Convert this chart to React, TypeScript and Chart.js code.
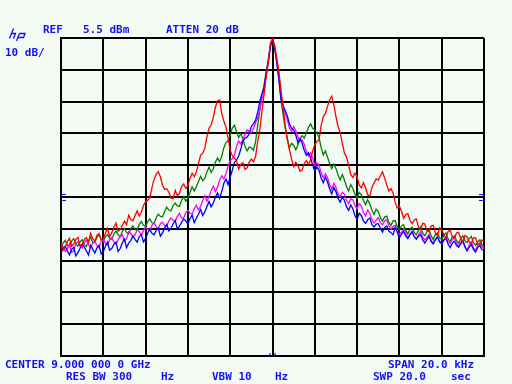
import React, { useEffect, useRef } from "react";
import { Chart, registerables } from "chart.js";

Chart.register(...registerables);

// Frequency offset from center (kHz), 201 sweep points across the 20 kHz span
const FREQ_KHZ: number[] = Array.from({ length: 201 }, (_, i) => Math.round((-10 + i * 0.1) * 10) / 10);

const X_TICKS: number[] = [-10, -8, -6, -4, -2, 0, 2, 4, 6, 8, 10];
const Y_TICKS: number[] = [5.5, -4.5, -14.5, -24.5, -34.5, -44.5, -54.5, -64.5, -74.5, -84.5, -94.5];

// Trace levels in dBm
const RED: number[] = [
  -58.8, -61.2, -60.5, -58.6, -57.5, -60.0, -59.3, -57.8, -57.2, -59.8,
  -59.4, -57.9, -57.3, -58.9, -55.9, -57.6, -58.4, -56.5, -56.0, -58.0,
  -57.8, -55.9, -54.4, -56.9, -55.7, -54.0, -52.7, -55.3, -54.7, -53.4,
  -52.1, -53.2, -50.2, -51.6, -52.0, -50.4, -48.9, -50.5, -49.3, -47.2,
  -46.0, -45.5, -44.7, -41.6, -38.9, -37.4, -36.5, -38.2, -40.8, -42.1,
  -41.9, -43.0, -44.8, -45.0, -42.4, -44.1, -43.4, -41.3, -40.4, -41.8,
  -40.9, -38.6, -37.1, -38.1, -36.6, -34.0, -31.3, -30.8, -29.2, -25.5,
  -22.9, -21.8, -19.5, -16.2, -14.3, -14.0, -18.2, -20.6, -22.5, -26.0,
  -29.8, -31.5, -32.2, -33.2, -35.7, -34.3, -33.7, -35.8, -35.3, -33.5,
  -32.6, -33.4, -31.8, -27.0, -23.4, -17.5, -12.4, -6.8, -2.0, 3.8,
  5.5, 3.2, -0.8, -4.8, -10.9, -16.0, -21.9, -26.5, -29.6, -32.5,
  -34.9, -33.6, -34.5, -36.4, -36.0, -34.0, -33.1, -34.3, -32.8, -30.0,
  -28.1, -27.0, -26.6, -22.0, -19.2, -18.2, -16.0, -14.0, -12.8, -15.5,
  -19.2, -22.4, -24.2, -27.6, -30.7, -32.0, -34.5, -37.5, -38.4, -37.0,
  -38.1, -40.8, -41.6, -40.0, -41.6, -43.8, -44.2, -41.5, -40.1, -38.8,
  -39.2, -37.8, -36.6, -38.5, -40.7, -42.6, -41.9, -43.2, -46.2, -48.0,
  -47.4, -49.0, -51.2, -50.0, -49.7, -51.8, -52.9, -51.7, -51.4, -53.9,
  -54.7, -52.8, -53.0, -55.0, -55.5, -53.6, -53.4, -55.8, -56.7, -54.2,
  -54.6, -56.4, -57.3, -55.4, -54.9, -57.0, -57.5, -55.8, -55.6, -57.6,
  -58.7, -56.6, -57.0, -58.6, -59.2, -57.4, -57.3, -59.4, -59.7, -58.0,
  -58.4,
];

const BLUE: number[] = [
  -62.1, -60.8, -59.9, -61.5, -62.7, -61.0, -60.3, -63.0, -62.0, -60.6,
  -59.5, -60.2, -61.5, -62.8, -59.7, -60.9, -62.1, -60.5, -59.7, -62.4,
  -61.7, -60.0, -58.7, -61.2, -60.7, -59.4, -58.7, -61.6, -60.7, -58.9,
  -57.7, -60.4, -59.0, -58.2, -56.7, -57.8, -58.7, -57.0, -56.3, -58.6,
  -57.5, -55.8, -54.6, -55.9, -56.4, -55.0, -54.3, -56.8, -55.8, -54.3,
  -53.1, -55.2, -54.4, -53.0, -51.9, -54.6, -53.7, -52.5, -51.4, -52.0,
  -53.0, -51.3, -50.2, -52.6, -51.2, -49.9, -48.4, -50.3, -49.2, -47.5,
  -45.9, -47.6, -46.4, -44.6, -43.2, -44.9, -42.8, -40.2, -38.9, -40.6,
  -38.2, -36.1, -33.6, -33.0, -31.6, -29.5, -26.9, -26.0, -25.7, -24.6,
  -22.3, -21.5, -20.3, -17.8, -14.5, -12.0, -10.2, -6.0, -2.0, 3.0,
  4.9, 2.5, -2.0, -7.2, -13.4, -15.8, -17.3, -19.0, -21.5, -22.9,
  -23.4, -25.0, -27.4, -26.1, -27.6, -29.8, -31.4, -30.6, -32.2, -34.5,
  -36.3, -35.0, -36.2, -38.5, -40.0, -38.2, -39.8, -41.9, -43.5, -41.5,
  -42.8, -45.0, -46.1, -44.6, -45.5, -47.6, -48.7, -47.0, -48.2, -50.4,
  -51.5, -49.6, -50.3, -52.0, -52.8, -51.6, -51.1, -53.2, -53.9, -53.0,
  -52.9, -54.3, -55.5, -54.1, -53.6, -55.2, -55.7, -56.4, -54.0, -55.6,
  -57.3, -56.2, -55.2, -56.8, -57.6, -56.4, -55.4, -57.0, -57.8, -56.9,
  -56.3, -57.9, -59.0, -57.9, -56.9, -58.5, -59.2, -58.0, -57.1, -58.6,
  -59.2, -58.1, -57.4, -59.3, -60.4, -59.0, -58.4, -59.8, -60.3, -59.2,
  -58.4, -60.1, -61.4, -60.3, -59.4, -61.0, -61.8, -60.4, -59.7, -61.0,
  -61.3,
];

const MAGENTA: number[] = [
  -59.5, -60.2, -61.6, -60.8, -59.3, -61.9, -61.5, -59.2, -58.6, -59.9,
  -60.5, -58.9, -58.0, -59.6, -60.4, -59.0, -58.5, -59.8, -60.5, -58.3,
  -57.8, -59.2, -59.6, -58.0, -57.3, -58.6, -59.3, -57.9, -57.0, -56.4,
  -58.4, -57.6, -55.4, -55.9, -57.1, -56.3, -54.9, -55.3, -56.6, -55.0,
  -53.8, -54.6, -55.1, -53.4, -52.6, -53.8, -54.5, -52.9, -52.4, -53.5,
  -53.7, -52.0, -51.1, -51.8, -52.2, -50.6, -49.6, -51.0, -51.1, -49.3,
  -48.7, -49.6, -49.9, -48.2, -47.1, -48.6, -47.4, -45.5, -44.1, -45.8,
  -44.4, -42.5, -41.1, -42.8, -41.4, -39.2, -37.8, -38.8, -37.2, -34.8,
  -33.0, -32.5, -31.3, -28.6, -26.9, -27.8, -26.4, -24.8, -23.4, -24.0,
  -24.3, -23.0, -21.0, -19.6, -17.1, -13.5, -10.2, -6.0, -2.0, 3.0,
  4.9, 2.5, -2.0, -7.0, -12.7, -16.2, -18.4, -20.0, -22.9, -23.8,
  -22.3, -23.6, -25.6, -27.0, -26.5, -28.0, -30.2, -31.6, -30.6, -32.3,
  -34.5, -33.8, -34.5, -36.9, -38.4, -37.2, -38.4, -40.6, -42.0, -40.2,
  -41.4, -43.6, -44.4, -43.0, -43.6, -45.6, -46.6, -45.0, -45.4, -47.2,
  -48.2, -46.6, -47.3, -49.4, -50.5, -48.6, -49.7, -51.6, -52.7, -51.8,
  -51.0, -52.6, -53.3, -52.0, -51.6, -53.6, -54.6, -53.8, -53.4, -55.4,
  -56.3, -55.6, -54.5, -55.8, -57.2, -56.2, -55.3, -56.9, -57.6, -56.4,
  -55.3, -57.0, -58.0, -57.3, -56.2, -58.0, -59.3, -57.8, -57.0, -58.4,
  -59.2, -58.0, -57.1, -58.6, -59.1, -58.0, -57.1, -59.0, -60.0, -58.7,
  -58.1, -60.2, -61.3, -59.5, -58.6, -60.4, -61.3, -59.6, -58.8, -60.1,
  -60.7,
];

const GREEN: number[] = [
  -60.7, -59.0, -58.1, -59.6, -60.1, -58.4, -57.6, -59.2, -60.0, -58.6,
  -57.9, -59.4, -60.1, -58.3, -57.1, -58.9, -58.7, -57.2, -56.3, -57.8,
  -58.6, -57.0, -56.3, -57.5, -57.8, -56.2, -55.2, -56.4, -57.0, -55.3,
  -54.4, -55.6, -56.1, -54.4, -53.6, -54.8, -54.9, -53.1, -52.2, -53.4,
  -53.8, -52.2, -51.4, -52.6, -52.8, -51.0, -49.9, -50.6, -50.7, -49.0,
  -47.7, -48.6, -48.9, -47.2, -46.4, -47.3, -47.5, -45.6, -44.4, -45.8,
  -44.9, -43.0, -41.3, -42.6, -41.3, -39.6, -38.0, -39.4, -38.6, -36.6,
  -35.1, -36.8, -35.6, -33.6, -32.2, -33.4, -31.7, -29.0, -27.4, -26.8,
  -25.0, -22.8, -21.9, -24.0, -25.8, -24.6, -26.2, -28.6, -30.0, -28.8,
  -29.0, -29.8, -27.1, -22.0, -17.1, -13.0, -9.3, -5.0, -1.4, 2.8,
  4.9, 2.4, -1.4, -7.4, -14.0, -18.6, -22.8, -26.0, -29.0, -27.6,
  -28.2, -29.6, -28.2, -26.4, -25.2, -26.0, -24.4, -22.6, -21.5, -22.9,
  -23.3, -24.4, -25.8, -29.0, -31.3, -30.0, -31.9, -34.0, -35.6, -34.2,
  -35.5, -37.6, -39.1, -37.4, -39.1, -41.2, -42.6, -40.6, -41.8, -43.6,
  -44.9, -43.0, -43.8, -45.6, -46.9, -45.4, -46.7, -48.6, -50.0, -48.3,
  -49.0, -51.0, -52.1, -50.8, -50.5, -52.4, -53.5, -52.0, -51.9, -53.8,
  -54.9, -53.6, -53.2, -55.0, -56.1, -54.6, -54.0, -55.6, -56.4, -55.0,
  -53.9, -55.8, -56.7, -55.4, -54.9, -56.6, -57.9, -56.3, -55.8, -57.3,
  -57.9, -56.6, -55.8, -57.6, -58.5, -57.2, -56.7, -58.2, -59.0, -57.6,
  -56.7, -58.3, -58.9, -57.6, -56.9, -58.8, -59.7, -58.6, -58.0, -59.4,
  -60.2,
];

const TRACE_NAMES: string[] = ["Trace A", "Trace B", "Trace C", "Trace D"];

const BG = "#f4faf4";
const TXT = "#1212ee";

const toPts = (vals: number[]) => vals.map((v, i) => ({ x: FREQ_KHZ[i], y: v }));

const decorPlugin = {
  id: "decor",
  beforeDraw(chart: any) {
    const { ctx, width, height } = chart;
    ctx.save();
    ctx.fillStyle = BG;
    ctx.fillRect(0, 0, width, height);
    ctx.restore();
  },
  afterDraw(chart: any) {
    const { ctx, chartArea } = chart;
    const { left, right, bottom } = chartArea;
    ctx.save();
    // reference level markers
    ctx.strokeStyle = TXT;
    ctx.lineWidth = 1.2;
    ctx.beginPath();
    [194.5, 200.5].forEach((yy) => {
      ctx.moveTo(left, yy);
      ctx.lineTo(left + 5, yy);
      ctx.moveTo(right - 5, yy);
      ctx.lineTo(right, yy);
    });
    const cx = chart.scales.x.getPixelForValue(0);
    ctx.moveTo(cx - 2.5, bottom - 3);
    ctx.lineTo(cx - 2.5, bottom);
    ctx.moveTo(cx + 2.5, bottom - 3);
    ctx.lineTo(cx + 2.5, bottom);
    ctx.stroke();

    // hp logo
    ctx.lineWidth = 1.3;
    ctx.beginPath();
    ctx.moveTo(13.5, 28.5);
    ctx.lineTo(9.5, 38.5);
    ctx.moveTo(11.5, 33.5);
    ctx.lineTo(15.5, 33.5);
    ctx.lineTo(13.5, 38.5);
    ctx.moveTo(19.5, 33.5);
    ctx.lineTo(16.5, 41);
    ctx.moveTo(19.5, 33.5);
    ctx.lineTo(25, 33.5);
    ctx.lineTo(23.5, 37.5);
    ctx.lineTo(18, 37.5);
    ctx.stroke();

    ctx.fillStyle = TXT;
    ctx.font = "bold 11px 'DejaVu Sans Mono'";
    ctx.textBaseline = "alphabetic";
    const t = (s: string, x: number, y: number) => ctx.fillText(s, x, y);
    t("REF", 43, 33);
    t("5.5 dBm", 83, 33);
    t("ATTEN 20 dB", 166, 33);
    t("10 dB/", 5, 56);
    t("CENTER 9.000 000 0 GHz", 5, 368);
    t("SPAN 20.0 kHz", 388, 368);
    t("RES BW 300", 66, 380);
    t("Hz", 161, 380);
    t("VBW 10", 212, 380);
    t("Hz", 275, 380);
    t("SWP 20.0", 373, 380);
    t("sec", 451, 380);
    ctx.restore();
  },
};

export default function App() {
  const ref = useRef<HTMLCanvasElement | null>(null);
  useEffect(() => {
    if (!ref.current) return;
    const colors = ["#ff0000", "#0000ff", "#ff00ff", "#008000"];
    const series = [RED, BLUE, MAGENTA, GREEN];
    const chart = new Chart(ref.current, {
      type: "line",
      data: {
        datasets: series.map((s, k) => ({
          label: TRACE_NAMES[k],
          data: toPts(s),
          borderColor: colors[k],
          backgroundColor: colors[k],
          borderWidth: 1.3,
          pointRadius: 0,
          tension: 0,
          fill: false,
        })),
      },
      options: {
        responsive: false,
        animation: false,
        events: [],
        layout: { padding: { left: 61, top: 38, right: 28, bottom: 28 } },
        plugins: { legend: { display: false }, tooltip: { enabled: false } },
        scales: {
          x: {
            type: "linear",
            min: -10,
            max: 10,
            afterBuildTicks: (axis: any) => {
              axis.ticks = X_TICKS.map((v) => ({ value: v }));
            },
            ticks: { display: false },
            grid: { color: "#000", lineWidth: 2, drawTicks: false },
            border: { display: true, color: "#000", width: 2 },
          },
          y: {
            type: "linear",
            min: -94.5,
            max: 5.5,
            afterBuildTicks: (axis: any) => {
              axis.ticks = Y_TICKS.map((v) => ({ value: v }));
            },
            ticks: { display: false },
            grid: { color: "#000", lineWidth: 2, drawTicks: false },
            border: { display: true, color: "#000", width: 2 },
          },
        },
      },
      plugins: [decorPlugin],
    });
    return () => chart.destroy();
  }, []);
  return (
    <div style={{ position: "fixed", left: 0, top: 0, width: 512, height: 384, background: BG }}>
      <canvas ref={ref} width={512} height={384} style={{ display: "block" }} />
    </div>
  );
}
